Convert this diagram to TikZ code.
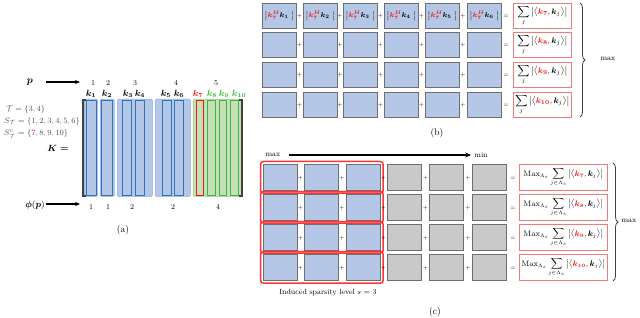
\documentclass[tikz,border=0pt]{standalone}
\usepackage{amsmath,amssymb,bm}
\usetikzlibrary{arrows.meta,decorations.pathreplacing,fit}
\definecolor{boxblue}{HTML}{B4C7E7}
\definecolor{colblue}{HTML}{2E75B6}
\definecolor{grpblue}{HTML}{8FAADC}
\definecolor{boxgreen}{HTML}{C5E0B4}
\definecolor{grpgreen}{HTML}{8FCB7A}
\definecolor{colgreen}{HTML}{3CB44B}
\definecolor{kred}{HTML}{F01818}
\definecolor{kgreen}{HTML}{33BB33}
\definecolor{boxgrey}{HTML}{C9C9C9}
\definecolor{edgegrey}{HTML}{6E6E6E}
\definecolor{pinkred}{HTML}{EC7C7C}
\definecolor{textgrey}{HTML}{505050}
\definecolor{brgrey}{HTML}{404040}
\begin{document}
\begin{tikzpicture}[x=1pt,y=-1pt,
  cell/.style={draw=edgegrey,line width=0.7pt,fill=boxblue,minimum width=34pt,minimum height=25pt,inner sep=0pt,anchor=north west,font=\fontsize{7.3}{8}\selectfont},
  ccell/.style={cell,minimum height=26pt},
  gcell/.style={ccell,fill=boxgrey},
  sumbox/.style={draw=pinkred,line width=0.7pt,fill=white,minimum width=58pt,minimum height=25pt,inner sep=0pt,anchor=north west,font=\fontsize{8}{9}\selectfont},
  maxbox/.style={sumbox,minimum width=88pt,minimum height=26pt,font=\fontsize{7.6}{8}\selectfont},
  opsym/.style={inner sep=0pt,font=\fontsize{5.5}{6}\selectfont},
  lbl/.style={inner sep=0pt,font=\fontsize{9}{10}\selectfont},
  small/.style={inner sep=0pt,font=\fontsize{7.5}{8}\selectfont},
  setlbl/.style={inner sep=0pt,anchor=west,text=textgrey,font=\fontsize{8}{9}\selectfont},
  grp/.style={draw=grpblue,line width=0.5pt,fill=boxblue,rounded corners=1pt,minimum height=97pt,inner sep=0pt,anchor=north west},
  grpg/.style={grp,draw=grpgreen,fill=boxgreen},
  col/.style={draw=colblue,line width=0.9pt,minimum height=95pt,inner sep=0pt,anchor=north west},
  colg/.style={col,draw=colgreen},
  colr/.style={col,draw=kred},
  thickarrow/.style={-{Stealth[length=5pt,width=4pt]},line width=1.6pt},
  bigarrow/.style={-{Stealth[length=6pt,width=5pt]},line width=2.2pt},
  bracegrp/.style={decorate,decoration={brace,amplitude=5pt},line width=0.8pt,draw=brgrey},
  matbr/.style={draw=brgrey,line width=1.2pt},
  redgrp/.style={draw=red!80!white,line width=1.5pt,rounded corners=3pt,inner sep=2.5pt}
]
\useasboundingbox (0,0) rectangle (640,318);

% ---------------- (a) ----------------
\foreach \n/\x/\w in {1/84/13,2/100/14,3/117/35,4/155/35}
  \node[grp,minimum width=\w pt] (g\n) at (\x,99) {};
\node[grpg,minimum width=48pt] (g5) at (193,99) {};
\foreach \n/\x/\w in {1/86/10,2/101/11,3/122/9,4/135/9,5/162/9,6/174/9}
  \node[col,minimum width=\w pt] (c\n) at (\x,100) {};
\node[colr,minimum width=7pt] (c7) at (196,100) {};
\foreach \n/\x/\w in {8/207/8,9/219/7,10/230/8}
  \node[colg,minimum width=\w pt] (c\n) at (\x,100) {};
\draw[matbr] (86,100) -- (83,100) -- (83,196) -- (86,196);
\draw[matbr] (239,100) -- (242,100) -- (242,196) -- (239,196);

\foreach \n/\x in {1/93,2/108,3/135,4/176,5/216}
  \node[small] (top\n) at (\x,83) {\n};
\foreach \n/\x in {1/91,2/107,3/128,4/140,5/166,6/179}
  \node[lbl] (k\n) at (\x,94) {$\bm{k}_{\bm{\n}}$};
\node[lbl,text=kred] (k7) at (198,94) {$\bm{k}_{\bm{7}}$};
\foreach \n/\x in {8/212,9/224,10/239}
  \node[lbl,text=kgreen] (k\n) at (\x,94) {$\bm{k}_{\bm{\n}}$};

\node[inner sep=0pt,font=\fontsize{10}{11}\selectfont] (p) at (30,82) {$\bm{p}$};
\coordinate (pend) at (80,82);
\draw[thickarrow,shorten <=16pt] (p.center) -- (pend);

\node[inner sep=0pt,font=\fontsize{9.5}{10}\selectfont] (phi) at (35,205) {$\bm{\phi}(\bm{p})$};
\coordinate (phiend) at (80,204);
\draw[thickarrow,shorten <=1pt] (phi.east |- phiend) -- (phiend);

\foreach \n/\x/\v in {1/91/1,2/108/1,3/132/2,4/173/2,5/218/4}
  \node[small] (bot\n) at (\x,207) {\v};

\node[setlbl] (tset) at (6,109.5) {$\mathcal{T}=\{3,4\}$};
\node[setlbl] (sset) at (4,121.5) {$S_{\mathcal{T}}=\{1,2,3,4,5,6\}$};
\node[setlbl] (scset) at (4,134) {$S^{c}_{\mathcal{T}}=\{\textcolor{kred}{7},8,9,10\}$};
\node[inner sep=0pt,font=\fontsize{9.5}{10}\selectfont] (Klbl) at (58,148) {$\bm{K}$ \textbf{=}};
\node[inner sep=0pt,font=\fontsize{9.5}{10}\selectfont] (alab) at (123,230) {(a)};

% ---------------- (b) ----------------
\foreach \c/\x in {1/262,2/303,3/343,4/384,5/425,6/467}
  \node[cell] (b1\c) at (\x,3) {$\big|\textcolor{kred}{\bm{k}_{\bm 7}^{\bm H}}\bm{k}_{\bm\c}\;\big|$};
\foreach \r/\y in {2/32,3/62,4/92}{
  \foreach \c/\x in {1/262,2/303,3/343,4/384,5/425,6/467}
    \node[cell] (b\r\c) at (\x,\y) {};
}
\foreach \r/\y in {1/3,2/32,3/62,4/92}{
  \foreach \c/\x in {1/299.5,2/340,3/380.5,4/421.5,5/463}
    \node[opsym] (bp\r\c) at (\x,\y+13) {+};
  \node[opsym] (be\r) at (506,\y+13) {=};
}
\foreach \r/\y/\k in {1/3/7,2/32/8,3/62/9,4/92/10}
  \node[sumbox] (sb\r) at (513,\y) {$\displaystyle\sum_j\big|\big\langle\textcolor{kred}{\bm{k}_{\bm{\k}}},\bm{k}_j\big\rangle\big|$};
\coordinate (bbt) at (580,3);
\coordinate (bbb) at (580,117);
\draw[bracegrp] (bbt) -- (bbb);
\node[small] (bmax) at (608,59) {max};
\node[inner sep=0pt,font=\fontsize{9.5}{10}\selectfont] (blab) at (437,133) {(b)};

% ---------------- (c) ----------------
\node[small] (cmax) at (273,155) {max};
\node[small] (cmin) at (481,155) {min};
\draw[bigarrow,shorten <=8pt,shorten >=3pt] (cmax) -- (cmin);
\foreach \r/\y in {1/164,2/194,3/224,4/254}{
  \foreach \c/\x in {1/263,2/304,3/346}
    \node[ccell] (c\r\c) at (\x,\y) {};
  \foreach \c/\x in {4/387,5/429,6/472}
    \node[gcell] (c\r\c) at (\x,\y) {};
  \node[redgrp,fit=(c\r1)(c\r3)] (cg\r) {};
  \foreach \c/\x in {1/300.5,2/342,3/383.5,4/425.5,5/468}
    \node[opsym] (cp\r\c) at (\x,\y+14) {+};
  \node[opsym] (ce\r) at (513,\y+14) {=};
}
\foreach \r/\y/\k in {1/164/7,2/194/8,3/224/9,4/254/10}
  \node[maxbox] (mb\r) at (519,\y) {$\mathrm{Max}_{\Lambda_s}\displaystyle\sum_{j\in\Lambda_s}\big|\big\langle\textcolor{kred}{\bm{k}_{\bm{\k}}},\bm{k}_j\big\rangle\big|$};
\coordinate (cbt) at (613,163);
\coordinate (cbb) at (613,281);
\draw[bracegrp] (cbt) -- (cbb);
\node[small] (cmaxr) at (629,221) {max};
\node[small] (sparsity) at (328,293) {Induced sparsity level $s$ = 3};
\node[inner sep=0pt,font=\fontsize{9.5}{10}\selectfont] (clab) at (435,312) {(c)};
\end{tikzpicture}
\end{document}
